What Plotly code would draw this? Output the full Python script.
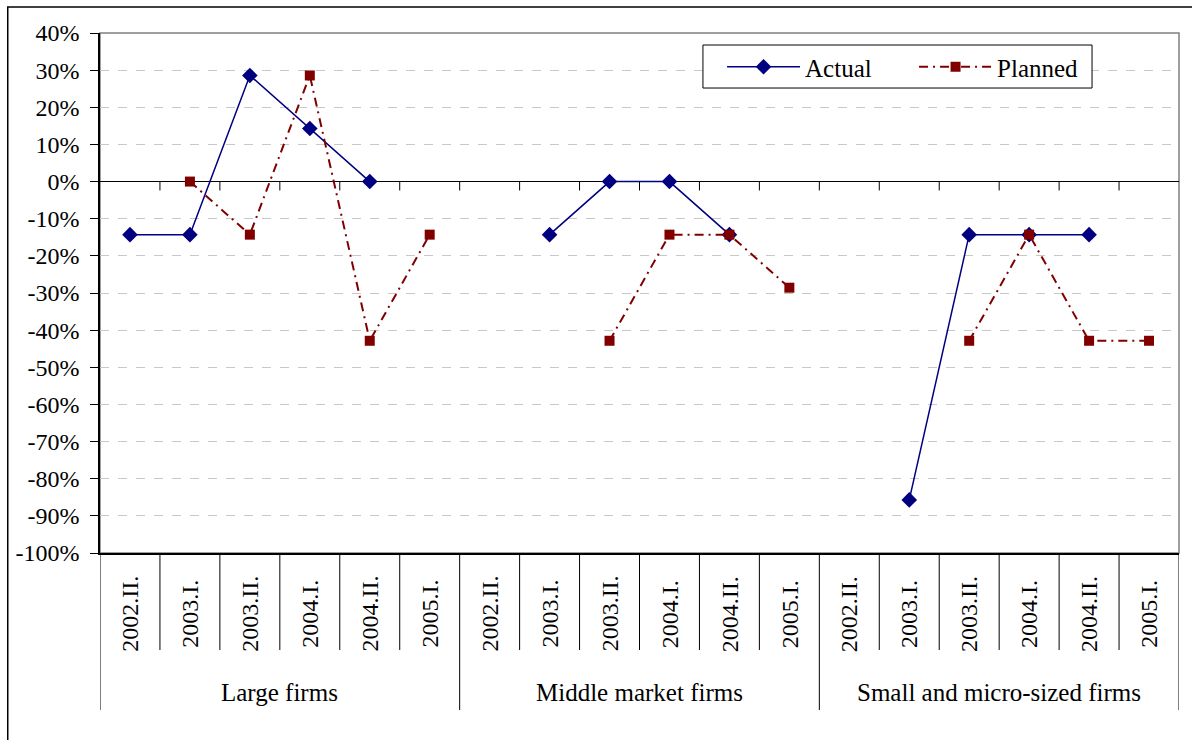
import plotly.graph_objects as go

# Survey periods repeated for each firm-size group
periods = ["2002.II.", "2003.I.", "2003.II.", "2004.I.", "2004.II.", "2005.I."]
groups = ["Large firms", "Middle market firms", "Small and micro-sized firms"]

# Net balance, percent (None = no observation)
actual = [
    -14.29, -14.29, 28.57, 14.29, 0.0, None,       # Large firms
    None, -14.29, 0.0, 0.0, -14.29, None,          # Middle market firms
    None, -85.71, -14.29, -14.29, -14.29, None,    # Small and micro-sized firms
]
planned = [
    None, 0.0, -14.29, 28.57, -42.86, -14.29,
    None, None, -42.86, -14.29, -14.29, -28.57,
    None, None, -42.86, -14.29, -42.86, -42.86,
]

y_min, y_max, y_step = -100, 40, 10

n = len(actual)
xs = list(range(n))
FONT = "Liberation Serif"
NAVY = "#000080"
MAROON = "#800000"

fig = go.Figure()
fig.add_trace(go.Scatter(
    x=xs, y=actual, name="Actual", mode="lines+markers",
    line=dict(color=NAVY, width=1.5),
    marker=dict(symbol="diamond", size=12, color=NAVY),
    connectgaps=False,
))
fig.add_trace(go.Scatter(
    x=xs, y=planned, name="Planned", mode="lines+markers",
    line=dict(color=MAROON, width=2, dash="9px,5px,2px,5px"),
    marker=dict(symbol="square", size=10, color=MAROON),
    connectgaps=False,
))

shapes = []
# gray plot-area frame
shapes.append(dict(type="rect", xref="paper", yref="paper", x0=0, x1=1, y0=0, y1=1,
                   line=dict(color="#808080", width=1.5), layer="below"))
# outer chart frame
shapes.append(dict(type="rect", xref="paper", yref="paper", x0=-0.0855, x1=1.2, y0=-0.6, y1=1.05,
                   line=dict(color="black", width=1.5), layer="below"))
# legend box
shapes.append(dict(type="rect", xref="paper", yref="paper", x0=0.5588, x1=0.9194, y0=0.8942, y1=0.9769,
                   line=dict(color="black", width=1), fillcolor="white", layer="above"))
# category ticks on the zero line
for i in range(n - 1):
    shapes.append(dict(type="line", xref="x", yref="y", x0=i + 0.5, x1=i + 0.5, y0=0, y1=-2.4,
                       line=dict(color="black", width=1)))
# separators in the label area below the plot
np_ = len(periods)
for i in range(n + 1):
    is_group = i % np_ == 0
    shapes.append(dict(type="line", xref="x", yref="paper", x0=i - 0.5, x1=i - 0.5,
                       y0=0, y1=-0.302 if is_group else -0.1865,
                       line=dict(color="black", width=1)))

annotations = []
for i in range(n):
    annotations.append(dict(x=i, y=-0.117, xref="x", yref="paper", text=periods[i % np_],
                            textangle=-90, showarrow=False, xanchor="center", yanchor="middle",
                            font=dict(family=FONT, size=24, color="black")))
for g, name in enumerate(groups):
    annotations.append(dict(x=g * np_ + (np_ - 1) / 2, y=-0.268, xref="x", yref="paper", text=name,
                            showarrow=False, xanchor="center", yanchor="middle",
                            font=dict(family=FONT, size=25, color="black")))

tickvals = list(range(y_min, y_max + 1, y_step))
fig.update_layout(
    width=1192, height=740,
    margin=dict(l=100, r=13, t=33, b=187, autoexpand=False),
    paper_bgcolor="white", plot_bgcolor="white",
    font=dict(family=FONT, size=24, color="black"),
    xaxis=dict(range=[-0.5, n - 0.5], showticklabels=False, showgrid=False, zeroline=False,
               showline=True, linecolor="black", linewidth=1.5, ticks=""),
    yaxis=dict(range=[y_min, y_max], tickvals=tickvals, ticktext=[f"{v}%" for v in tickvals],
               showgrid=True, gridcolor="#c8c8c8", griddash="dash", gridwidth=1,
               zeroline=True, zerolinecolor="black", zerolinewidth=1.2,
               showline=True, linecolor="black", linewidth=1.5,
               ticks="outside", ticklen=8, tickcolor="black", tickwidth=1,
               ticklabelstandoff=6,
               tickfont=dict(family=FONT, size=24)),
    legend=dict(orientation="h", x=0.5765, y=0.9346, xanchor="left", yanchor="middle",
                bgcolor="rgba(0,0,0,0)", borderwidth=0,
                font=dict(family=FONT, size=25), itemwidth=73, entrywidth=104),
    shapes=shapes, annotations=annotations, showlegend=True,
)

fig.write_html("out.html")
